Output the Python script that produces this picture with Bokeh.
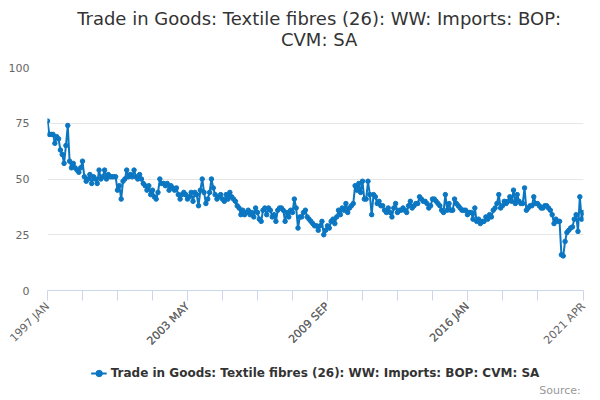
from bokeh.plotting import figure
from bokeh.layouts import column
from bokeh.models import Range1d, FixedTicker, Legend, LegendItem, ColumnDataSource, Label
from bokeh.embed import file_html
from bokeh.resources import INLINE

MONTHS = ["JAN", "FEB", "MAR", "APR", "MAY", "JUN", "JUL", "AUG", "SEP", "OCT", "NOV", "DEC"]
START_YEAR = 1997

v1997 = [76, 70, 70, 70, 66, 69, 68, 63, 61, 57, 65, 74]
v1998 = [58, 55, 57, 55, 54, 53, 55, 58, 51, 49, 50, 52]
v1999 = [48, 51, 50, 48, 54, 50, 51, 54, 50, 52, 51, 51]
v2000 = [51, 51, 45, 47, 41, 49, 50, 54, 51, 52, 51, 54]
v2001 = [51, 50, 52, 50, 48, 47, 45, 47, 43, 45, 42, 41]
v2002 = [44, 50, 48, 48, 47, 48, 45, 47, 46, 45, 46, 43]
v2003 = [41, 43, 44, 43, 41, 42, 44, 40, 44, 43, 38, 45]
v2004 = [50, 44, 39, 41, 44, 50, 46, 43, 41, 42, 43, 41]
v2005 = [40, 43, 41, 44, 42, 41, 40, 38, 37, 34, 36, 34]
v2006 = [35, 36, 34, 35, 33, 37, 35, 32, 31, 36, 37, 34]
v2007 = [37, 36, 33, 34, 31, 36, 37, 37, 36, 31, 35, 33]
v2008 = [36, 35, 41, 37, 28, 33, 33, 35, 36, 33, 32, 31]
v2009 = [30, 29, 29, 27, 29, 31, 25, 27, 29, 28, 31, 32]
v2010 = [30, 33, 36, 34, 37, 36, 39, 35, 37, 38, 39, 47]
v2011 = [45, 48, 44, 49, 41, 41, 49, 43, 34, 43, 42, 39]
v2012 = [40, 38, 38, 36, 35, 37, 35, 33, 37, 39, 35, 36]
v2013 = [36, 37, 36, 35, 38, 40, 37, 38, 39, 39, 42, 41]
v2014 = [40, 40, 39, 37, 38, 41, 41, 40, 39, 38, 36, 35]
v2015 = [43, 36, 39, 36, 36, 41, 39, 38, 37, 36, 36, 36]
v2016 = [34, 35, 35, 32, 37, 31, 32, 30, 31, 31, 33, 32]
v2017 = [34, 33, 36, 37, 39, 43, 37, 38, 40, 39, 40, 42]
v2018 = [40, 45, 39, 43, 40, 39, 39, 46, 36, 37, 38, 38]
v2019 = [42, 39, 39, 38, 37, 37, 38, 38, 37, 36, 34, 30]
v2020 = [32, 31, 31, 16, 15.5, 22, 26, 27, 28, 28.5, 32, 34]
v2021 = [26.5, 42, 32, 35]

values = (v1997 + v1998 + v1999 + v2000 + v2001 + v2002 + v2003 + v2004 + v2005
          + v2006 + v2007 + v2008 + v2009 + v2010 + v2011 + v2012 + v2013 + v2014
          + v2015 + v2016 + v2017 + v2018 + v2019 + v2020 + v2021)
month_labels = [f"{START_YEAR + i // 12} {MONTHS[i % 12]}" for i in range(len(values))]
xs = list(range(len(values)))

y_ticks = [0, 25, 50, 75, 100]
labelled = [0, 76, 152, 228, len(values) - 1]
tick_pos = list(range(0, len(values) - 19, 19)) + [len(values) - 1]

TITLE1 = "Trade in Goods: Textile fibres (26): WW: Imports: BOP:"
TITLE2 = "CVM: SA"
SERIES = "Trade in Goods: Textile fibres (26): WW: Imports: BOP: CVM: SA"
SOURCE = "Source:"
COLOR = "#0b76c1"
FONT = "DejaVu Sans"
W = 592


def strip(h):
    f = figure(width=W, height=h, output_backend="svg", toolbar_location=None,
               x_range=Range1d(0, W), y_range=Range1d(0, h),
               x_axis_location=None, y_axis_location=None,
               min_border_left=0, min_border_right=0, min_border_top=0, min_border_bottom=0)
    f.title = None
    f.outline_line_color = None
    f.xgrid.grid_line_color = None
    f.ygrid.grid_line_color = None
    return f


# title strip
p0 = strip(59)
p0.add_layout(Label(x=300, y=41, text=TITLE1, text_align="center", text_baseline="middle",
                    text_font_size="18px", text_font=FONT, text_color="#333333"))
p0.add_layout(Label(x=300, y=20, text=TITLE2, text_align="center", text_baseline="middle",
                    text_font_size="18px", text_font=FONT, text_color="#333333"))

# main chart
src = ColumnDataSource(dict(x=xs, y=values, m=month_labels))
p = figure(width=W, height=296, output_backend="svg", toolbar_location=None,
           x_range=Range1d(0, len(values) - 1), y_range=Range1d(0, 100),
           min_border_left=47, min_border_right=9, min_border_top=8, min_border_bottom=62)
p.title = None
p.outline_line_color = None
p.background_fill_color = "white"

ln = p.line("x", "y", source=src, line_color=COLOR, line_width=2)
sc = p.scatter("x", "y", source=src, size=4.5, fill_color=COLOR, line_color=COLOR)

p.xgrid.grid_line_color = None
p.ygrid.grid_line_color = "#e6e6e6"
p.ygrid.ticker = FixedTicker(ticks=y_ticks)

ya = p.yaxis[0]
ya.ticker = FixedTicker(ticks=y_ticks)
ya.axis_line_color = None
ya.major_tick_line_color = None
ya.minor_tick_line_color = None
ya.major_label_text_color = "#666666"
ya.major_label_text_font_size = "11px"
ya.major_label_text_font = FONT
ya.major_label_standoff = 12

xa = p.xaxis[0]
xa.ticker = FixedTicker(ticks=tick_pos + labelled[1:4])
xa.major_label_overrides = {t: (month_labels[t] if t in labelled else "") for t in sorted(set(tick_pos + labelled))}
xa.axis_line_color = "#ccd6eb"
xa.major_tick_line_color = "#ccd6eb"
xa.major_tick_out = 10
xa.major_tick_in = 0
xa.minor_tick_line_color = None
xa.major_label_orientation = 0.785398
xa.major_label_text_color = "#666666"
xa.major_label_text_font_size = "11px"
xa.major_label_text_font = FONT
xa.major_label_standoff = 4

# legend / source strip
p2 = strip(41)
dummy = ColumnDataSource(dict(x=[-50, -40], y=[-50, -50]))
lln = p2.line("x", "y", source=dummy, line_color=COLOR, line_width=2)
lsc = p2.scatter("x", "y", source=dummy, size=4.5, fill_color=COLOR, line_color=COLOR)
legend = Legend(items=[LegendItem(label=SERIES, renderers=[lln, lsc])], location="top_center",
                orientation="horizontal", label_text_font_style="bold",
                label_text_font_size="12px", label_text_font=FONT, label_text_color="#333333",
                border_line_color=None, background_fill_alpha=0, glyph_width=16,
                padding=2, margin=8, label_standoff=4)
p2.add_layout(legend, "center")
p2.add_layout(Label(x=589, y=6, text=SOURCE, text_align="right", text_baseline="middle",
                    text_font_size="11px", text_font=FONT, text_color="#999999"))

open("out.html", "w").write(file_html(column(p0, p, p2, spacing=0), INLINE))
